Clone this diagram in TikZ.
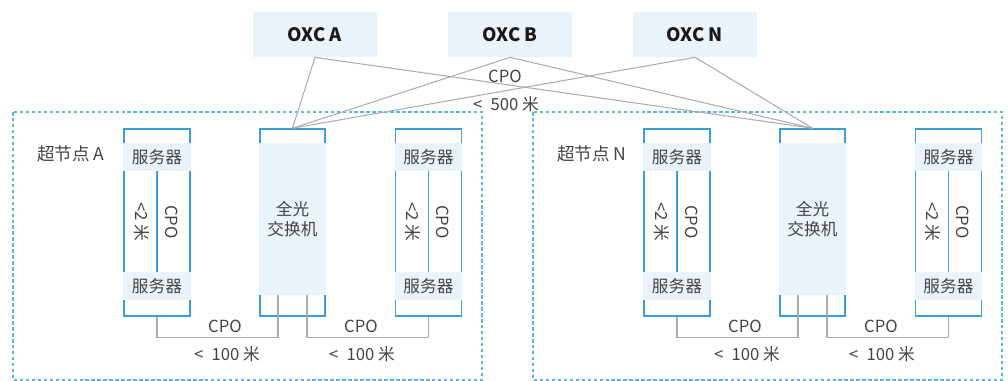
\documentclass[tikz,border=0pt]{standalone}
\usepackage{fontspec}
\setmainfont{Noto Sans CJK SC}
\usetikzlibrary{positioning, calc}

\definecolor{rackblue}{HTML}{3A9FD8}
\definecolor{boxfill}{HTML}{EBF3FA}
\definecolor{dashblue}{HTML}{5CB6E2}
\definecolor{linkgray}{HTML}{ADADAD}
\definecolor{txtgray}{HTML}{444444}

\begin{document}
\begin{tikzpicture}[
    x=0.02cm, y=-0.02cm,
    font=\fontsize{9.5pt}{11pt}\selectfont,
    oxc/.style={fill=boxfill, minimum width=2.48cm, minimum height=0.9cm,
      font=\fontsize{10.5pt}{12pt}\selectfont\bfseries, text=black!90},
    rack/.style={draw=rackblue, line width=0.9pt, minimum width=1.32cm, minimum height=3.74cm},
    band/.style={fill=boxfill, minimum width=1.35cm, minimum height=0.56cm, inner sep=0pt, text=txtgray},
    swfill/.style={fill=boxfill, minimum width=1.35cm, minimum height=3.04cm, align=center, text=txtgray},
    link/.style={draw=linkgray, line width=0.6pt},
    super/.style={draw=dashblue, line width=0.7pt, dash pattern=on 2pt off 1.4pt},
    lbl/.style={text=txtgray}
]
    \useasboundingbox (0,0) rectangle (1008,381);

    % OXC layer
    \node[oxc] (oxca) at (315,34.5) {OXC A};
    \node[oxc] (oxcb) at (510,34.5) {OXC B};
    \node[oxc] (oxcn) at (695,34.5) {OXC N};

    % Super nodes
    \foreach \sn/\dx/\name in {a/0/A, n/520/N} {
      \begin{scope}[xshift=\dx*0.02cm]
        \draw[super] (13,112) rectangle (482,380);
        \node[lbl, anchor=west, font=\fontsize{10pt}{12pt}\selectfont] (title\sn) at (31,154) {超节点 \name};

        % left rack
        \node[rack] (rackl\sn) at (157,222.5) {};
        \node[band] (topl\sn) at (157,157) {服务器};
        \node[band] (botl\sn) at (157,286) {服务器};
        \draw[rackblue, line width=0.9pt] (topl\sn.south) -- (botl\sn.north);
        \node[lbl, rotate=-90] (lenl\sn) at (142,222) {<2 米};
        \node[lbl, rotate=-90] (cpol\sn) at (172,222) {CPO};

        % optical switch
        \node[rack, minimum width=1.3cm] (sw\sn) at (292.5,222.5) {};
        \node[swfill] (swin\sn) at (292.5,219) {全光\\交换机};

        % right rack
        \node[rack] (rackr\sn) at (428.5,222.5) {};
        \node[band] (topr\sn) at (428.5,157) {服务器};
        \node[band] (botr\sn) at (428.5,286) {服务器};
        \draw[rackblue, line width=0.9pt] (topr\sn.south) -- (botr\sn.north);
        \node[lbl, rotate=-90] (lenr\sn) at (413,222) {<2 米};
        \node[lbl, rotate=-90] (cpor\sn) at (443,222) {CPO};

        % rack to switch links
        \draw[link] (rackl\sn.south) -- ++(0,21) -| ([xshift=-0.29cm]swin\sn.south);
        \draw[link] ([xshift=0.29cm]swin\sn.south) -- ++(0,42) -| (rackr\sn.south);
        \node[lbl] (cpoa\sn) at (225,326) {CPO};
        \node[lbl] (dista\sn) at (227,354) {<\; 100 米};
        \node[lbl] (cpob\sn) at (361,326) {CPO};
        \node[lbl] (distb\sn) at (362,354) {<\; 100 米};
      \end{scope}
    }

    % OXC to switch links
    \foreach \o in {oxca, oxcb, oxcn} {
      \draw[link] (\o.south) -- (swa.north);
      \draw[link] (\o.south) -- (swn.north);
    }
    \node[lbl] (cpotop) at (505,76) {CPO};
    \node[lbl] (disttop) at (506,104) {<\; 500 米};
\end{tikzpicture}
\end{document}
